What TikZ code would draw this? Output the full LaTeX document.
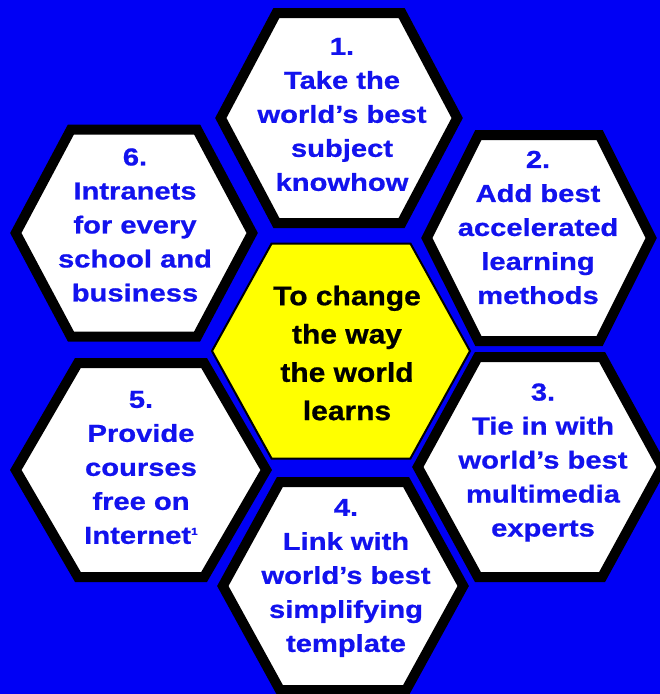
\documentclass[tikz,border=0pt]{standalone}
\usepackage{fontspec}
\setmainfont{Liberation Sans}
\newfontfamily\celltextfont{Liberation Sans}[FakeStretch=1.19,BoldFeatures={FakeBold=0.8}]
\newfontfamily\goaltextfont{Liberation Sans}[FakeStretch=1.11,BoldFeatures={FakeBold=0.8}]
\definecolor{bgblue}{RGB}{0,0,245}
\definecolor{txtblue}{RGB}{18,18,238}
\definecolor{goalyellow}{RGB}{255,255,0}
% hexagon with pointed left/right ends: centre x, centre y, half width, half top edge, half height
\newcommand\hexpath[5]{({#1-#3},#2) -- ({#1-#4},{#2-#5}) -- ({#1+#4},{#2-#5}) -- ({#1+#3},#2) -- ({#1+#4},{#2+#5}) -- ({#1-#4},{#2+#5}) -- cycle}
\begin{document}
\begin{tikzpicture}[x=1pt,y=-1pt,
  hexcell/.style={fill=white,draw=black,line width=10pt,line join=miter},
  goalcell/.style={fill=goalyellow,draw=black,line width=2pt,line join=miter},
  celltext/.style={align=center,text=txtblue,font=\celltextfont\bfseries\fontsize{24.5}{34}\selectfont,inner sep=0pt},
  goaltext/.style={align=center,text=black,font=\goaltextfont\bfseries\fontsize{27}{38.3}\selectfont,inner sep=0pt}]
\fill[bgblue] (0,0) rectangle (660,694);
\useasboundingbox (0,0) rectangle (660,694);
% outer cells (outer border measurements minus half the line width)
\path[hexcell] \hexpath{339}{118}{118.2}{62.6}{105};
\path[hexcell] \hexpath{539}{238}{112.2}{60.6}{103};
\path[hexcell] \hexpath{540}{467}{122.2}{62.1}{110};
\path[hexcell] \hexpath{343}{586}{120.2}{63.1}{104};
\path[hexcell] \hexpath{141}{470}{125.2}{63.1}{107};
\path[hexcell] \hexpath{134}{233}{118.2}{63.1}{103.5};
% centre goal
\path[goalcell] \hexpath{341}{351}{129}{69.4}{107.5};
% texts
\node[celltext] (t1) at (342,114.5) {1.\\Take the\\world’s best\\subject\\knowhow};
\node[celltext] (t2) at (538,227.5) {2.\\Add best\\accelerated\\learning\\methods};
\node[celltext] (t3) at (543,462.5) {3.\\Tie in with\\world’s best\\multimedia\\experts};
\node[celltext] (t4) at (346,578) {4.\\Link with\\world’s best\\simplifying\\template};
\node[celltext] (t5) at (141,467.5) {5.\\Provide\\courses\\free on\\Internet{\fontsize{10}{10}\selectfont\raisebox{9pt}{1}}};
\node[celltext] (t6) at (135,225) {6.\\Intranets\\for every\\school and\\business};
\node[goaltext] (goal) at (347,353) {To change\\the way\\the world\\learns};
\end{tikzpicture}
\end{document}
